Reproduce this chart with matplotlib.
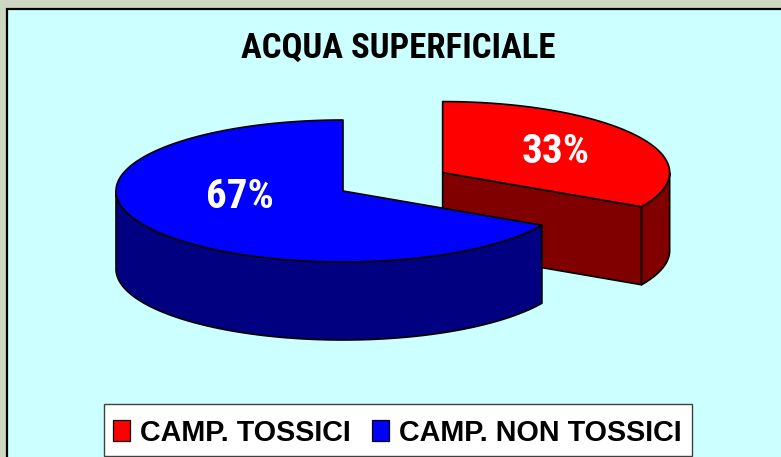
import numpy as np
import matplotlib
matplotlib.use("Agg")
import matplotlib.pyplot as plt
from matplotlib.patches import Polygon, Rectangle

# ---- data ----
title = "ACQUA SUPERFICIALE"
categories = ["CAMP. TOSSICI", "CAMP. NON TOSSICI"]
percentages = [33, 67]
top_colors = ["#FF0000", "#0000FF"]
side_colors = ["#800000", "#000080"]

NARROW = ["Roboto Condensed", "Liberation Sans", "DejaVu Sans"]
SANS = ["Liberation Sans", "DejaVu Sans"]

W, H = 781, 457
fig = plt.figure(figsize=(W / 100, H / 100), dpi=100)
fig.patch.set_facecolor("#CED7C1")
ax = fig.add_axes([0, 0, 1, 1])
ax.set_xlim(0, W)
ax.set_ylim(H, 0)
ax.axis("off")

# panel
ax.add_patch(Rectangle((6.5, 8.5), 800, 500, facecolor="#CCFFFF", edgecolor="black", lw=1.6, zorder=0))

# 3D pie geometry (pixel space)
cx, cy = 343.0, 191.0
a, b, depth = 227.0, 71.0, 78.0
explode = [0.51, 0.0]
start = 90.0

def ell(t, ox, oy, dz=0.0):
    t = np.radians(t)
    return np.column_stack([ox + a * np.cos(t), oy - b * np.sin(t) + dz])

slices = []
total = sum(percentages)
ang = start
for i, p in enumerate(percentages):
    span = 360.0 * p / total
    t1, t0 = ang, ang - span  # clockwise
    ang = t0
    mid = np.radians((t0 + t1) / 2)
    ox = cx + explode[i] * a * np.cos(mid)
    oy = cy - explode[i] * b * np.sin(mid)
    slices.append((t0, t1, ox, oy))

ek = dict(edgecolor="black", lw=1.2, joinstyle="round")
for i, (t0, t1, ox, oy) in enumerate(slices):
    lo, hi = t0, t1
    # radial face at the clockwise end, if it faces the viewer
    if np.sin(np.radians(lo - 90)) < 0:
        p0 = np.array([ox, oy])
        p1 = ell(lo, ox, oy)[0]
        face = np.array([p0, p1, p1 + [0, depth], p0 + [0, depth]])
        ax.add_patch(Polygon(face, closed=True, facecolor=side_colors[i], zorder=2 + 3 * i, **ek))
    # visible part of the curved rim (front half)
    ts = np.linspace(lo, hi, 400)
    vis = ts[np.sin(np.radians(ts)) <= 1e-9]
    if len(vis) > 1:
        top = ell(vis, ox, oy)
        bot = ell(vis[::-1], ox, oy, depth)
        ax.add_patch(Polygon(np.vstack([top, bot]), closed=True,
                             facecolor=side_colors[i], zorder=2 + 3 * i, **ek))
    # top face
    arc = ell(np.linspace(lo, hi, 400), ox, oy)
    poly = np.vstack([[ox, oy], arc])
    ax.add_patch(Polygon(poly, closed=True, facecolor=top_colors[i], zorder=3 + 3 * i, **ek))

# percentage labels
label_pos = [(556, 163), (240, 208)]
for i, p in enumerate(percentages):
    ax.text(label_pos[i][0], label_pos[i][1], f"{p}%", color="white", fontsize=29.5,
            fontweight="bold", family=NARROW, ha="center", va="baseline", zorder=20)

# title
ax.text(398, 58, title, fontsize=25, fontweight="bold", family=NARROW,
        ha="center", va="baseline", zorder=20)

# legend
ax.add_patch(Rectangle((104, 403.5), 588, 52, facecolor="white", edgecolor="#404040", lw=1.0, zorder=10))
leg_x = [113, 372]
for i, c in enumerate(categories):
    ax.add_patch(Rectangle((leg_x[i], 420), 17, 21, facecolor=top_colors[i], edgecolor="black", lw=0.9, zorder=11))
    ax.text(leg_x[i] + 27, 441, c, fontsize=20.7, fontweight="bold", family=SANS,
            ha="left", va="baseline", zorder=12)

fig.savefig("out.png", dpi=100, facecolor=fig.get_facecolor())
